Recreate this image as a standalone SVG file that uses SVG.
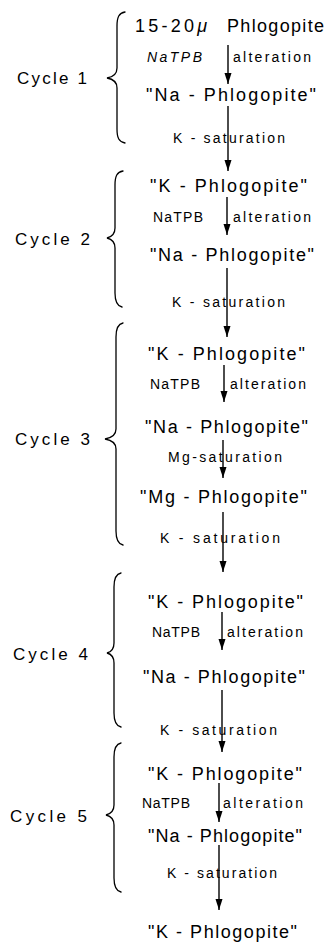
<svg xmlns="http://www.w3.org/2000/svg" width="326" height="943" viewBox="0 0 326 943">
<style>
.t{font-family:"Liberation Sans",Arial,sans-serif;fill:#000}
.big{font-size:18px}
.sm{font-size:14px}
.cy{font-size:17px}
.it{font-style:italic}
.ar{stroke:#000;stroke-width:1.4;fill:none;marker-end:url(#ah)}
.br{stroke:#000;stroke-width:1.3;fill:none;stroke-linecap:round}
</style>
<defs>
<marker id="ah" markerUnits="userSpaceOnUse" viewBox="0 -4 11 8" markerWidth="11" markerHeight="8" refX="11" refY="0" orient="auto">
<path d="M0,-3.5 L11,0 L0,3.5 z" fill="#000"/>
</marker>
</defs>
<rect width="326" height="943" fill="#fff"/>

<g id="connectors">
<line class="ar" x1="228" y1="45" x2="228" y2="84"/>
<line class="ar" x1="228" y1="106" x2="228" y2="171"/>
<line class="ar" x1="227" y1="197" x2="227" y2="235"/>
<line class="ar" x1="227" y1="268" x2="227" y2="337"/>
<line class="ar" x1="224" y1="365" x2="224" y2="402"/>
<line class="ar" x1="223" y1="440" x2="223" y2="478"/>
<line class="ar" x1="223" y1="512" x2="223" y2="572"/>
<line class="ar" x1="222" y1="612" x2="222" y2="650"/>
<line class="ar" x1="222" y1="690" x2="222" y2="752"/>
<line class="ar" x1="219" y1="783" x2="219" y2="822"/>
<line class="ar" x1="219" y1="845" x2="219" y2="910"/>
</g>

<g id="brace1"><path class="br" d="M125,12 C119,13 117,17 117,26 L117,68 C117,74 113,77 107,78 C113,79 117,82 117,88 L117,129 C117,138 119,142 125,143"/><text class="t cy" x="17" y="84" textLength="70">Cycle 1</text></g>
<g id="brace2"><path class="br" d="M123,171 C117,172 115,176 115,185 L115,228 C115,234 111,237 107,238 C111,239 115,242 115,248 L115,293 C115,302 117,306 122,307"/><text class="t cy" x="15" y="245" textLength="75">Cycle 2</text></g>
<g id="brace3"><path class="br" d="M123,323 C118,324 116,328 116,337 L116,429 C116,435 111,438 105,439 C111,440 116,443 116,449 L116,531 C116,540 118,544 123,545"/><text class="t cy" x="15" y="445" textLength="75">Cycle 3</text></g>
<g id="brace4"><path class="br" d="M121,573 C116,574 114,578 114,587 L114,643 C114,649 111,652 107,653 C111,654 114,657 114,663 L114,713 C114,722 116,726 121,727"/><text class="t cy" x="13" y="660" textLength="75">Cycle 4</text></g>
<g id="brace5"><path class="br" d="M121,743 C116,744 114,748 114,757 L114,805 C114,811 110,814 106,815 C110,816 114,819 114,825 L114,878 C114,887 116,891 121,892"/><text class="t cy" x="10" y="822" textLength="77">Cycle 5</text></g>

<g id="n1"><text class="t big" y="32"><tspan x="135" textLength="72">15-20<tspan class="it">μ</tspan></tspan><tspan x="227" textLength="97">Phlogopite</tspan></text></g>
<g id="l1"><text class="t sm" y="62"><tspan class="it" x="147" textLength="55">NaTPB</tspan><tspan x="233" textLength="78">alteration</tspan></text></g>
<g id="n2"><text class="t big" x="146" y="101" textLength="170">"Na - Phlogopite"</text></g>
<g id="l2"><text class="t sm" x="173" y="143" textLength="112">K - saturation</text></g>

<g id="n3"><text class="t big" x="150" y="192" textLength="157">"K - Phlogopite"</text></g>
<g id="l3"><text class="t sm" y="222"><tspan x="153" textLength="50">NaTPB</tspan><tspan x="233" textLength="78">alteration</tspan></text></g>
<g id="n4"><text class="t big" x="150" y="261" textLength="164">"Na - Phlogopite"</text></g>
<g id="l4"><text class="t sm" x="172" y="307" textLength="113">K - saturation</text></g>

<g id="n5"><text class="t big" x="148" y="360" textLength="157">"K - Phlogopite"</text></g>
<g id="l5"><text class="t sm" y="389"><tspan x="150" textLength="50">NaTPB</tspan><tspan x="230" textLength="76">alteration</tspan></text></g>
<g id="n6"><text class="t big" x="145" y="433" textLength="163">"Na - Phlogopite"</text></g>
<g id="l6"><text class="t sm" x="168" y="462" textLength="114">Mg-saturation</text></g>
<g id="n7"><text class="t big" x="140" y="503" textLength="167">"Mg - Phlogopite"</text></g>
<g id="l7"><text class="t sm" x="160" y="543" textLength="120">K - saturation</text></g>

<g id="n8"><text class="t big" x="148" y="608" textLength="155">"K - Phlogopite"</text></g>
<g id="l8"><text class="t sm" y="637"><tspan x="152" textLength="48">NaTPB</tspan><tspan x="227" textLength="76">alteration</tspan></text></g>
<g id="n9"><text class="t big" x="143" y="683" textLength="162">"Na - Phlogopite"</text></g>
<g id="l9"><text class="t sm" x="160" y="735" textLength="117">K - saturation</text></g>

<g id="n10"><text class="t big" x="148" y="780" textLength="154">"K - Phlogopite"</text></g>
<g id="l10"><text class="t sm" y="808"><tspan x="142" textLength="48">NaTPB</tspan><tspan x="223" textLength="80">alteration</tspan></text></g>
<g id="n11"><text class="t big" x="148" y="842" textLength="154">"Na - Phlogopite"</text></g>
<g id="l11"><text class="t sm" x="167" y="878" textLength="110">K - saturation</text></g>
<g id="n12"><text class="t big" x="148" y="938" textLength="149">"K - Phlogopite"</text></g>
</svg>
